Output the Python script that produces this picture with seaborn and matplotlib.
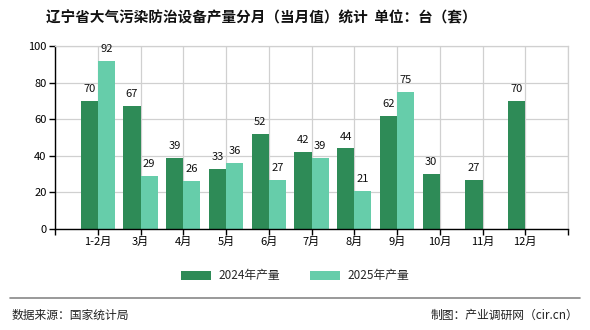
import numpy as np
import pandas as pd
import matplotlib
matplotlib.use("Agg")
import matplotlib.pyplot as plt
import seaborn as sns
from matplotlib.lines import Line2D
from matplotlib.patches import Patch

months = ["1-2月", "3月", "4月", "5月", "6月", "7月", "8月", "9月", "10月", "11月", "12月"]
v2024 = [70, 67, 39, 33, 52, 42, 44, 62, 30, 27, 70]
v2025 = [92, 29, 26, 36, 27, 39, 21, 75, np.nan, np.nan, np.nan]
series = ["2024年产量", "2025年产量"]
colors = ["#2E8B57", "#66CDAA"]
title = "辽宁省大气污染防治设备产量分月（当月值）统计  单位：台（套）"
yticks = [0, 20, 40, 60, 80, 100]

sns.set_theme(style="white")
plt.rcParams['font.family'] = ['Noto Sans CJK SC', 'DejaVu Sans']

df = pd.DataFrame({
    "month": months * 2,
    "value": v2024 + v2025,
    "series": [series[0]] * len(months) + [series[1]] * len(months),
})

fig = plt.figure(figsize=(5.9, 3.3), dpi=100)
ax = fig.add_axes([55 / 590, 1 - 229 / 330, (568 - 55) / 590, (229 - 46) / 330])

sns.barplot(data=df.dropna(), x="month", y="value", hue="series", order=months,
            hue_order=series, palette=colors, width=0.8, saturation=1,
            ax=ax, legend=False, linewidth=0, edgecolor="none")

for cont, vals in zip(ax.containers, [v2024, v2025]):
    labs = [f"{int(v)}" for v in vals if not np.isnan(v)]
    ax.bar_label(cont, labels=labs, padding=5, fontsize=8, color="#111111")

ax.set_xlim(-1, len(months))
ax.set_ylim(0, 100)
ax.set_xticks(range(-1, len(months) + 1))
ax.set_xticklabels([""] + months + [""], fontsize=8)
ax.set_yticks(yticks)
ax.set_yticklabels([str(t) for t in yticks], fontsize=8)
ax.set_xlabel("")
ax.set_ylabel("")
ax.grid(True, color="#d0d0d0", linewidth=0.9)
ax.set_axisbelow(True)
for s in ["top", "right"]:
    ax.spines[s].set_color("#d0d0d0")
    ax.spines[s].set_linewidth(0.9)
for s in ["left", "bottom"]:
    ax.spines[s].set_color("black")
    ax.spines[s].set_linewidth(1.0)
ax.tick_params(axis="both", which="both", length=4, width=1, color="black",
               direction="out", pad=2, labelcolor="black")
ax.tick_params(axis="x", bottom=True)
ax.tick_params(axis="y", left=True)

handles = [Patch(facecolor=c, edgecolor="none") for c in colors]
fig.legend(handles, series, loc="center", bbox_to_anchor=(0.5, 1 - 276 / 330),
           ncol=2, frameon=False, fontsize=8.5, handlelength=2.6, handleheight=0.9,
           columnspacing=2.5, handletextpad=0.6)

fig.text(46 / 590, 1 - 17 / 330, title, fontsize=10.5, fontweight="bold",
         ha="left", va="center", color="#111111")

fig.add_artist(Line2D([10 / 590, 580 / 590], [1 - 298 / 330] * 2, color="#888888",
                      linewidth=1.2, transform=fig.transFigure))
fig.text(12 / 590, 1 - 315 / 330, "数据来源：国家统计局", fontsize=8.5,
         ha="left", va="center", color="#222222")
fig.text(578 / 590, 1 - 315 / 330, "制图：产业调研网（cir.cn）", fontsize=8.5,
         ha="right", va="center", color="#222222")

fig.savefig("out.png", dpi=100)
